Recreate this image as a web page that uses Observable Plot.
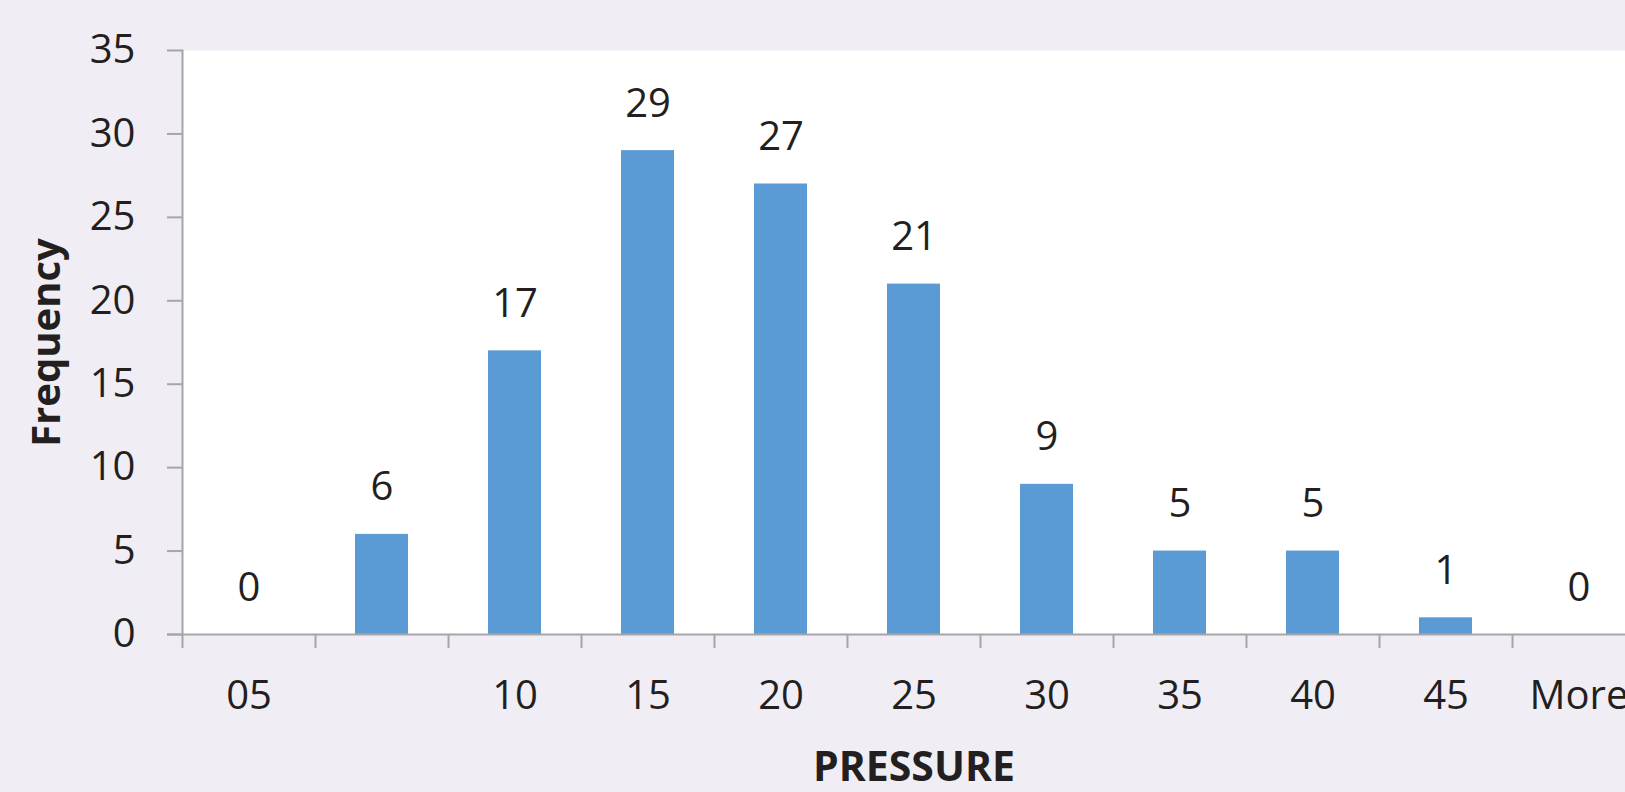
<!DOCTYPE html>
<html>
<head>
<meta charset="utf-8">
<script src="https://cdn.jsdelivr.net/npm/d3@7"></script>
<script src="https://cdn.jsdelivr.net/npm/@observablehq/plot@0.6"></script>
<style>
  html, body { margin: 0; padding: 0; background: #f0edf5; }
  #chart { width: 1625px; height: 792px; overflow: hidden; }
  svg { display: block; }
</style>
</head>
<body>
<div id="chart"></div>
<script>
const categories = ["05", "", "10", "15", "20", "25", "30", "35", "40", "45", "More"];
const frequencies = [0, 6, 17, 29, 27, 21, 9, 5, 5, 1, 0];
const yTicks = [0, 5, 10, 15, 20, 25, 30, 35];
const xTitle = "PRESSURE";
const yTitle = "Frequency";

const data = categories.map((c, i) => ({bin: c, freq: frequencies[i]}));

const axisGray = "#a6a6a6";
const textColor = "#231f20";
const font = "'Open Sans', 'Noto Sans', sans-serif";

const chart = Plot.plot({
  width: 1625,
  height: 792,
  marginLeft: 182,
  marginRight: -20,
  marginTop: 50,
  marginBottom: 158,
  style: {background: "transparent", fontFamily: font, fontSize: "40px", color: textColor},
  x: {type: "band", domain: categories, paddingInner: 0.6, paddingOuter: 0.3},
  y: {domain: [0, 35], ticks: yTicks},
  marks: [
    Plot.frame({fill: "white", stroke: null}),
    Plot.barY(data, {x: "bin", y: "freq", fill: "#5b9bd5"}),
    Plot.axisY({ticks: yTicks, tickSize: 15, tickPadding: 32, stroke: axisGray, strokeWidth: 2, fill: textColor, fontSize: 40, label: null}),
    Plot.axisX({tickSize: 0, tickPadding: 46, fill: textColor, fontSize: 40, label: null}),
    Plot.ruleX(categories, {x: d => d, dx: -66.5, insetTop: 584, insetBottom: -14, stroke: axisGray, strokeWidth: 2}),
    Plot.frame({anchor: "left", stroke: axisGray, strokeWidth: 2}),
    Plot.ruleY([0], {stroke: axisGray, strokeWidth: 2, insetLeft: -15}),
    Plot.text(data, {x: "bin", y: "freq", text: d => String(d.freq), dy: -34, lineAnchor: "bottom", fill: textColor, fontSize: 40}),
    Plot.text([yTitle], {frameAnchor: "left", dx: -135, rotate: -90, textAnchor: "middle", lineAnchor: "middle", fontWeight: "bold", fontSize: 40, fill: textColor}),
    Plot.text([xTitle], {frameAnchor: "bottom", dy: 133, textAnchor: "middle", lineAnchor: "middle", fontWeight: "bold", fontSize: 41, fill: textColor})
  ]
});
document.getElementById("chart").append(chart);
</script>
</body>
</html>
